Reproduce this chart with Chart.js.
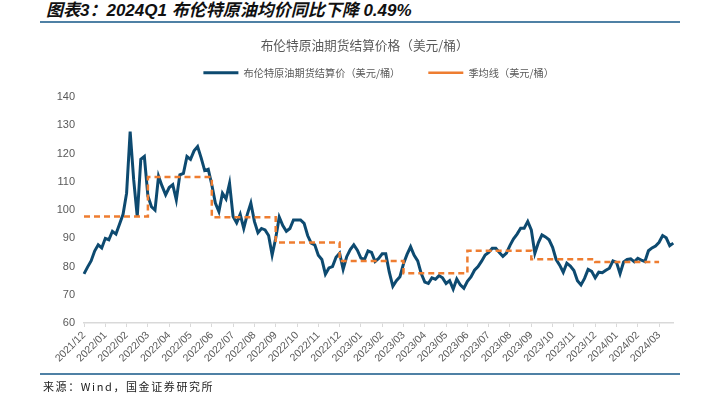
<!DOCTYPE html>
<html>
<head>
<meta charset="utf-8">
<script src="https://cdn.jsdelivr.net/npm/chart.js@4.4.1/dist/chart.umd.min.js"></script>
<style>
  html, body { margin: 0; padding: 0; background: #fff; }
  #wrap { position: relative; width: 716px; height: 398px; overflow: hidden; }
  #chart { position: absolute; left: 0; top: 0; }
  .fig-title { position: absolute; left: 46px; top: 1px; font: italic bold 17px "Liberation Sans", "Noto Sans CJK SC", sans-serif; color: #111; line-height: 20px; white-space: nowrap; }
  .rule { position: absolute; left: 40px; width: 640px; background: #4f81a5; }
  .source { position: absolute; left: 43px; top: 378px; font: 11px "Noto Sans CJK SC", "Liberation Sans", sans-serif; letter-spacing: 1.6px; color: #222; line-height: 16px; white-space: nowrap; }
</style>
</head>
<body>
<div id="wrap">
  <div class="fig-title">图表3：2024Q1 布伦特原油均价同比下降 0.49%</div>
  <div class="rule" style="top:21px;height:2px;"></div>
  <canvas id="chart" width="716" height="398"></canvas>
  <div class="rule" style="top:373px;height:1.5px;"></div>
  <div class="source">来源：Wind，国金证券研究所</div>
</div>
<script>
// month tick labels, one every 6 samples
var months = ['2021/12','2022/01','2022/02','2022/03','2022/04','2022/05','2022/06','2022/07',
  '2022/08','2022/09','2022/10','2022/11','2022/12','2023/01','2023/02','2023/03','2023/04',
  '2023/05','2023/06','2023/07','2023/08','2023/09','2023/10','2023/11','2023/12','2024/01',
  '2024/02','2024/03'];
var perMonth = 6;

// Brent settlement price, USD/bbl (~3-4 trading days apart)
var price = [
  77.4, 79.8, 82, 85.5, 87.7, 86.6, 90, 89.5, 92.5, 91.5, 95, 98.5,
  106, 127.8, 110.7, 97.7, 118, 119, 105, 101.2, 100, 112, 108.5, 105.4,
  108, 109, 103.6, 112.5, 113, 119, 118, 121, 122.5, 118.5, 114, 114.5,
  109, 102.5, 99.5, 106, 104, 109.5, 97.7, 95.5, 98.5, 93.5, 98.5, 102.5,
  96, 92, 93.5, 93, 91, 84.1, 90, 97.5, 94.5, 92.5, 93.5, 96.5,
  96.5, 96.5, 95.3, 91, 88.3, 87.7, 84, 82.5, 77.3, 79.5, 80, 83.3,
  84.7, 79, 83.5, 86, 87.7, 85.8, 83, 82.5, 85.5, 85, 81.8, 82.9,
  84.5, 84.5, 78, 73, 75, 76.4, 81, 84.3, 87, 84, 82, 77.5,
  74.5, 74, 76, 75.5, 76.8, 76, 74, 75, 72, 75.6, 73.5, 72.3,
  74.8, 76.3, 78.7, 80, 81.9, 84.1, 85, 86.5, 86.5, 85, 83.6, 84.8,
  87.5, 89.8, 91.5, 93.6, 93.6, 96, 93, 84.7, 88.5, 91.2, 90.5, 89.5,
  86.8, 82.5, 80.5, 78, 81.2, 80.2, 78.6, 75, 73.5, 75.8, 79, 78.3,
  76, 78, 77.8, 78.7, 79.4, 82, 81.5, 77.5, 81.6, 82.5, 82.7, 81.7,
  82.9, 82.3, 81.8, 85.6, 86.6, 87.3, 88.6, 91, 90.2, 87.4, 88.3
];

// quarterly averages 2022Q1 .. 2024Q1
var quarterAvg = [97.7, 111.7, 97.5, 88.5, 82.0, 77.6, 85.6, 82.6, 81.6];
var perQuarter = perMonth * 3;

var labels = price.map(function (v, i) {
  return i % perMonth === 0 && months[i / perMonth] ? months[i / perMonth] : '';
});
var avgLine = price.map(function (v, i) {
  if (i > quarterAvg.length * perQuarter) return null;
  return quarterAvg[Math.min(Math.floor(i / perQuarter), quarterAvg.length - 1)];
});

Chart.defaults.font.family = '"Liberation Sans", "Noto Sans CJK SC", sans-serif';
Chart.defaults.color = '#595959';

// push the plot down a bit below the legend
var legendGap = {
  id: 'legendGap',
  beforeInit: function (chart) {
    var fit = chart.legend.fit;
    chart.legend.fit = function () {
      fit.bind(chart.legend)();
      this.height += 9.5;
    };
  }
};

var ctx = document.getElementById('chart').getContext('2d');
var chart = new Chart(ctx, {
  type: 'line',
  data: {
    labels: labels,
    datasets: [{
      label: '布伦特原油期货结算价（美元/桶）',
      data: price,
      borderColor: '#0d4a70',
      backgroundColor: '#0d4a70',
      borderWidth: 3,
      pointRadius: 0,
      tension: 0,
      order: 1
    }, {
      label: '季均线（美元/桶）',
      data: avgLine,
      borderColor: '#ee7d31',
      backgroundColor: '#ee7d31',
      borderWidth: 2.5,
      borderDash: [6, 4],
      stepped: true,
      pointRadius: 0,
      order: 0
    }]
  },
  options: {
    responsive: false,
    animation: false,
    layout: { padding: { left: 56, right: 42.7, top: 0, bottom: 0 } },
    plugins: {
      title: {
        display: true,
        text: '布伦特原油期货结算价格（美元/桶）',
        color: '#595959',
        font: { size: 12.7, weight: 'normal', family: '"Noto Sans CJK SC", "Liberation Sans", sans-serif' },
        padding: { top: 37.2, bottom: -12.9 }
      },
      legend: {
        fullSize: false,
        labels: {
          usePointStyle: true,
          pointStyle: 'line',
          pointStyleWidth: 35,
          padding: 28,
          color: '#595959',
          font: { size: 10.2, family: '"Noto Sans CJK SC", "Liberation Sans", sans-serif' },
          sort: function (a, b) { return a.datasetIndex - b.datasetIndex; }
        }
      },
      tooltip: { enabled: false }
    },
    scales: {
      x: {
        afterFit: function (s) { s.height = 75; },
        grid: { drawOnChartArea: false, drawTicks: true, tickLength: 4, color: '#d9d9d9' },
        border: { display: true, color: '#d9d9d9', width: 1.5 },
        ticks: {
          autoSkip: false,
          minRotation: 45,
          maxRotation: 45,
          padding: 2,
          color: '#595959',
          font: { size: 10.5 },
          callback: function (value) {
            var l = this.getLabelForValue(value);
            return l ? l : null;
          }
        }
      },
      y: {
        min: 60,
        max: 140,
        afterFit: function (s) { s.width = 28; },
        grid: { display: false, drawTicks: false },
        border: { display: false },
        ticks: { stepSize: 10, padding: 9, color: '#595959', font: { size: 11 } }
      }
    }
  },
  plugins: [legendGap]
});
</script>
</body>
</html>
